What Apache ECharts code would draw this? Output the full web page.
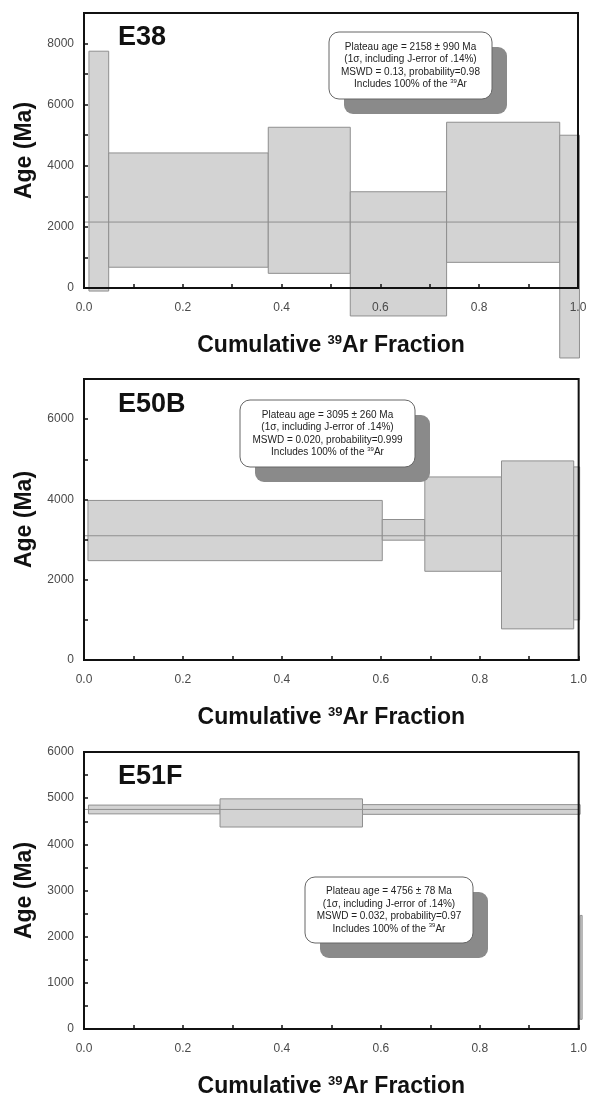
<!DOCTYPE html>
<html>
<head>
<meta charset="utf-8">
<script src="https://cdn.jsdelivr.net/npm/echarts@6/dist/echarts.min.js"></script>
<style>
  html, body { margin: 0; padding: 0; background: #fff; }
  #chart { width: 590px; height: 1099px; }
</style>
</head>
<body>
<div id="chart"></div>
<script>
// step boundaries (cumulative 39Ar fraction) and 1-sigma age ranges (Ma)
const e38Frac = [0.01, 0.05, 0.373, 0.539, 0.734, 0.963, 1.003]
const e38Low = [-100, 680, 480, -915, 840, -2290]
const e38High = [7750, 4420, 5260, 3150, 5425, 5000]
const e38Plateau = 2158

const e50bFrac = [0.008, 0.603, 0.689, 0.844, 0.99, 1.002]
const e50bLow = [2475, 2985, 2210, 775, 1000]
const e50bHigh = [3975, 3500, 4560, 4960, 4810]
const e50bPlateau = 3095

const e51fFrac = [0.009, 0.275, 0.563, 1.003, 1.007]
const e51fLow = [4660, 4375, 4650, 210]
const e51fHigh = [4850, 4985, 4860, 2460]
const e51fPlateau = 4756

const panelNames = ['E38', 'E50B', 'E51F']
const xTicks = [0, 0.2, 0.4, 0.6, 0.8, 1.0]
const yMax = [9000, 7000, 6000]
const yTickStep = [1000, 1000, 500]
const yLabelStep = [2000, 2000, 1000]

const notes = [
  ['Plateau age = 2158 ± 990 Ma', '(1σ, including J-error of .14%)', 'MSWD = 0.13, probability=0.98', 'Includes 100% of the {sup|39}Ar'],
  ['Plateau age = 3095 ± 260 Ma', '(1σ, including J-error of .14%)', 'MSWD = 0.020, probability=0.999', 'Includes 100% of the {sup|39}Ar'],
  ['Plateau age = 4756 ± 78 Ma', '(1σ, including J-error of .14%)', 'MSWD = 0.032, probability=0.97', 'Includes 100% of the {sup|39}Ar']
]

const FONT = 'Liberation Sans, Arial, sans-serif'

// build [x0, x1, low, high] rows from the arrays
const steps = (frac, low, high) => low.map((lo, i) => [frac[i], frac[i + 1], lo, high[i]])

const panels = [
  { data: steps(e38Frac, e38Low, e38High), plateau: e38Plateau },
  { data: steps(e50bFrac, e50bLow, e50bHigh), plateau: e50bPlateau },
  { data: steps(e51fFrac, e51fLow, e51fHigh), plateau: e51fPlateau }
]

// layout of the three plot boxes
const grids = [
  { left: 84, top: 13, width: 494, height: 275 },
  { left: 84, top: 379, width: 495, height: 281 },
  { left: 84, top: 752, width: 495, height: 280 }
]
const titleTops = [24, 391, 763]
const noteBoxes = [
  { x: 329, y: 32, w: 163, h: 67 },
  { x: 240, y: 400, w: 175, h: 67 },
  { x: 305, y: 877, w: 168, h: 66 }
]

const chart = echarts.init(document.getElementById('chart'))

const renderStep = (params, api) => {
  const p0 = api.coord([api.value(0), api.value(3)])
  const p1 = api.coord([api.value(1), api.value(2)])
  return {
    type: 'rect',
    shape: { x: p0[0], y: p0[1], width: p1[0] - p0[0], height: p1[1] - p0[1] },
    style: { fill: '#d3d3d3', stroke: '#8f8f8f', lineWidth: 1 }
  }
}

const option = {
  animation: false,
  title: panelNames.map((name, i) => ({
    text: name,
    left: 118,
    top: titleTops[i],
    padding: 0,
    textStyle: { fontFamily: FONT, fontSize: 27, fontWeight: 'bold', color: '#111' }
  })),
  grid: grids.map(g => ({
    ...g,
    show: true,
    z: 3,
    borderColor: '#111',
    borderWidth: 2,
    backgroundColor: 'transparent'
  })),
  xAxis: grids.map((g, i) => ({
    type: 'value',
    gridIndex: i,
    min: 0,
    max: 1,
    interval: 0.1,
    z: 4,
    name: 'Cumulative {sup|39}Ar Fraction',
    nameLocation: 'middle',
    nameGap: 46,
    nameTextStyle: {
      fontFamily: FONT, fontSize: 23, fontWeight: 'bold', color: '#111',
      rich: { sup: { fontFamily: FONT, fontSize: 13, fontWeight: 'bold', color: '#111', verticalAlign: 'top' } }
    },
    axisLine: { lineStyle: { color: '#111', width: 2 } },
    axisTick: { inside: true, length: 4, lineStyle: { color: '#111', width: 1.5 } },
    axisLabel: {
      margin: 14,
      fontFamily: FONT, fontSize: 12, color: '#4a4a4a',
      formatter: v => {
        const t = Math.round(v * 10)
        return xTicks.some(x => Math.round(x * 10) === t) ? (t / 10).toFixed(1) : ''
      }
    },
    splitLine: { show: false }
  })),
  yAxis: grids.map((g, i) => ({
    type: 'value',
    gridIndex: i,
    min: 0,
    max: yMax[i],
    interval: yTickStep[i],
    z: 4,
    name: 'Age (Ma)',
    nameLocation: 'middle',
    nameGap: 46,
    nameTextStyle: { fontFamily: FONT, fontSize: 23, fontWeight: 'bold', color: '#111' },
    axisLine: { lineStyle: { color: '#111', width: 2 } },
    axisTick: { inside: true, length: 4, lineStyle: { color: '#111', width: 1.5 } },
    axisLabel: {
      margin: 10,
      fontFamily: FONT, fontSize: 12, color: '#4a4a4a',
      formatter: v => (v % yLabelStep[i] === 0 ? String(v) : '')
    },
    splitLine: { show: false }
  })),
  series: panels.flatMap((p, i) => [
    {
      type: 'custom',
      xAxisIndex: i,
      yAxisIndex: i,
      clip: false,
      z: 2,
      renderItem: renderStep,
      data: p.data
    },
    {
      type: 'line',
      xAxisIndex: i,
      yAxisIndex: i,
      z: 2.5,
      symbol: 'none',
      lineStyle: { color: '#8f8f8f', width: 1 },
      data: [[0, p.plateau], [1, p.plateau]]
    }
  ]),
  graphic: noteBoxes.flatMap((b, i) => [
    {
      type: 'rect',
      z: 10,
      shape: { x: b.x + 15, y: b.y + 15, width: b.w, height: b.h, r: 9 },
      style: { fill: '#8a8a8a' }
    },
    {
      type: 'rect',
      z: 11,
      shape: { x: b.x, y: b.y, width: b.w, height: b.h, r: 10 },
      style: { fill: '#fff', stroke: '#666', lineWidth: 1 }
    },
    {
      type: 'text',
      z: 12,
      style: {
        text: notes[i].join('\n'),
        x: b.x + b.w / 2,
        y: b.y + b.h / 2,
        align: 'center',
        verticalAlign: 'middle',
        textAlign: 'center',
        textVerticalAlign: 'middle',
        fontFamily: FONT,
        fontSize: 10,
        lineHeight: 12.5,
        fill: '#222',
        rich: { sup: { fontFamily: FONT, fontSize: 6, fill: '#222', verticalAlign: 'top', lineHeight: 12.5 } }
      }
    }
  ])
}

chart.setOption(option)
</script>
</body>
</html>
